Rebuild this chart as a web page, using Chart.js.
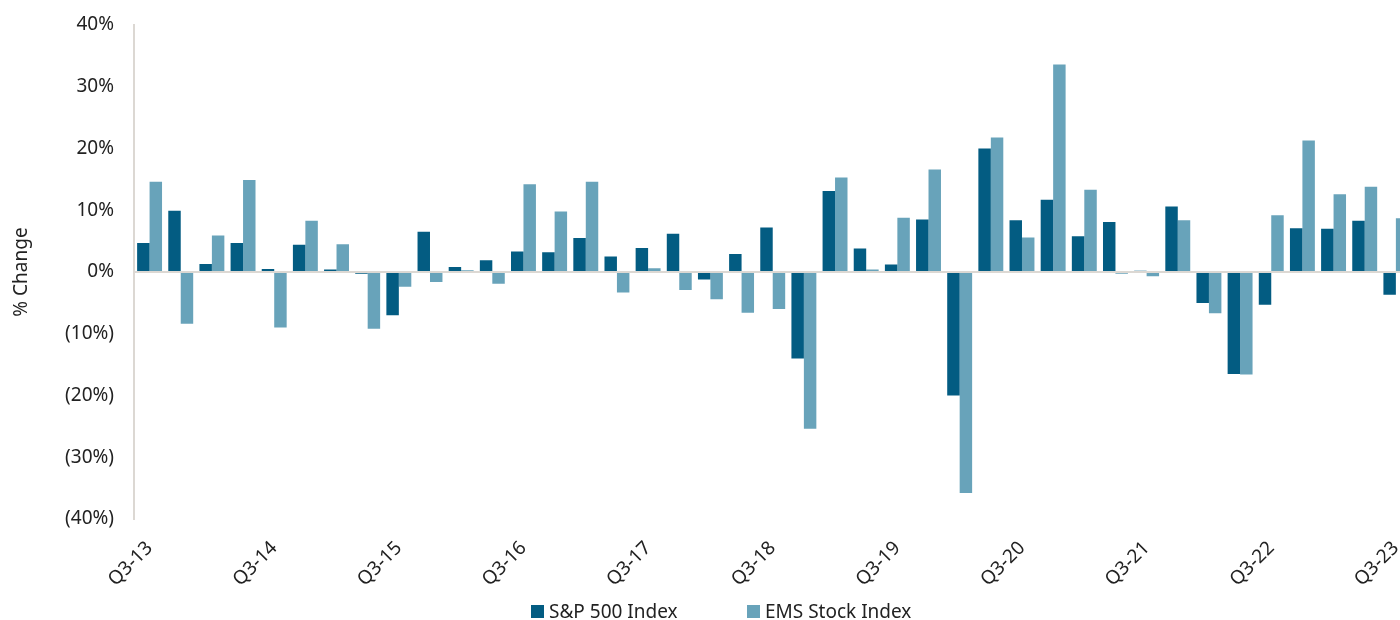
<!DOCTYPE html>
<html>
<head>
<meta charset="utf-8">
<script src="https://cdn.jsdelivr.net/npm/chart.js@4"></script>
<style>
  html, body { margin: 0; padding: 0; background: #fff; overflow: hidden; }
  #wrap { position: relative; width: 1422px; height: 620px; }
  #legend { position: absolute; left: 0; top: 0; width: 1400px; height: 620px; pointer-events: none;
            font-family: "Noto Sans", sans-serif; font-size: 19px; color: #222; }
  .item { position: absolute; top: 598px; display: flex; align-items: center; white-space: nowrap; }
  .box { width: 13px; height: 13px; margin-right: 5px; }
</style>
</head>
<body>
<div id="wrap">
  <canvas id="emsChart" width="1422" height="620"></canvas>
  <div id="legend"></div>
</div>
<script>
var quarters = ['Q3-13', 'Q4-13', 'Q1-14', 'Q2-14', 'Q3-14', 'Q4-14', 'Q1-15', 'Q2-15', 'Q3-15', 'Q4-15',
    'Q1-16', 'Q2-16', 'Q3-16', 'Q4-16', 'Q1-17', 'Q2-17', 'Q3-17', 'Q4-17', 'Q1-18', 'Q2-18',
    'Q3-18', 'Q4-18', 'Q1-19', 'Q2-19', 'Q3-19', 'Q4-19', 'Q1-20', 'Q2-20', 'Q3-20', 'Q4-20',
    'Q1-21', 'Q2-21', 'Q3-21', 'Q4-21', 'Q1-22', 'Q2-22', 'Q3-22', 'Q4-22', 'Q1-23', 'Q2-23', 'Q3-23'];

var sp500 = [4.7, 9.9, 1.3, 4.7, 0.5, 4.4, 0.4, -0.3, -7.0, 6.5,
    0.8, 1.9, 3.3, 3.2, 5.5, 2.5, 3.9, 6.2, -1.2, 2.9,
    7.2, -14.0, 13.1, 3.8, 1.2, 8.5, -20.0, 20.0, 8.4, 11.7,
    5.8, 8.1, 0.2, 10.6, -5.0, -16.5, -5.3, 7.1, 7.0, 8.3, -3.7];

var emsStock = [14.6, -8.4, 5.9, 14.9, -9.0, 8.3, 4.5, -9.2, -2.4, -1.6,
    0.3, -1.9, 14.2, 9.8, 14.6, -3.3, 0.6, -2.9, -4.4, -6.6,
    -6.0, -25.4, 15.3, 0.4, 8.8, 16.6, -35.8, 21.8, 5.6, 33.6,
    13.3, -0.3, -0.7, 8.4, -6.7, -16.6, 9.2, 21.3, 12.6, 13.8, 8.7];

var yTicks = [-40, -30, -20, -10, 0, 10, 20, 30, 40];

var darkBlue = '#035c82';
var lightBlue = '#68a3ba';
var axisGrey = '#dcd8d3';
var textColor = '#222';
var fontFamily = '"Noto Sans", sans-serif';

function pct(v) {
    return v < 0 ? '(' + Math.abs(v) + '%)' : v + '%';
}

var ctx = document.getElementById('emsChart').getContext('2d');
var chart = new Chart(ctx, {
    type: 'bar',
    data: {
        labels: quarters,
        datasets: [{
            label: 'S&P 500 Index',
            data: sp500,
            backgroundColor: darkBlue,
            borderWidth: 0,
            barPercentage: 1,
            categoryPercentage: 0.8
        }, {
            label: 'EMS Stock Index',
            data: emsStock,
            backgroundColor: lightBlue,
            borderWidth: 0,
            barPercentage: 1,
            categoryPercentage: 0.8
        }]
    },
    options: {
        responsive: false,
        animation: false,
        layout: {
            padding: { top: 25, right: 0, bottom: 0, left: 0 }
        },
        plugins: {
            legend: { display: false },
            tooltip: { enabled: false }
        },
        scales: {
            x: {
                grid: { display: false },
                border: { display: false },
                ticks: {
                    autoSkip: false,
                    maxRotation: 45,
                    minRotation: 45,
                    padding: 10,
                    color: textColor,
                    font: { family: fontFamily, size: 19 },
                    callback: function (value, index) {
                        return index % 4 === 0 ? quarters[index] : '';
                    }
                },
                afterFit: function (scale) {
                    scale.height = 101;
                }
            },
            y: {
                min: -40,
                max: 40,
                afterBuildTicks: function (scale) {
                    scale.ticks = yTicks.map(function (v) { return { value: v }; });
                },
                grid: {
                    drawTicks: true,
                    tickLength: 20,
                    tickColor: 'rgba(0,0,0,0)',
                    lineWidth: 2,
                    color: function (c) {
                        return c.tick && c.tick.value === 0 ? axisGrey : 'rgba(0,0,0,0)';
                    }
                },
                border: { display: true, color: axisGrey, width: 2 },
                ticks: {
                    padding: 0,
                    color: textColor,
                    font: { family: fontFamily, size: 19 },
                    callback: function (value) { return pct(value); }
                },
                title: {
                    display: true,
                    text: '% Change',
                    color: textColor,
                    font: { family: fontFamily, size: 19 },
                    padding: { top: 10, bottom: 0 }
                },
                afterFit: function (scale) {
                    scale.width = 134;
                }
            }
        }
    }
});

// legend drawn as html so the wide gap between the two entries can be kept
var legendEl = document.getElementById('legend');
var legendLeft = [531, 747];
chart.data.datasets.forEach(function (ds, i) {
    var item = document.createElement('div');
    item.className = 'item';
    item.style.left = legendLeft[i] + 'px';
    var box = document.createElement('span');
    box.className = 'box';
    box.style.background = ds.backgroundColor;
    var txt = document.createElement('span');
    txt.textContent = ds.label;
    item.appendChild(box);
    item.appendChild(txt);
    legendEl.appendChild(item);
});
</script>
</body>
</html>
